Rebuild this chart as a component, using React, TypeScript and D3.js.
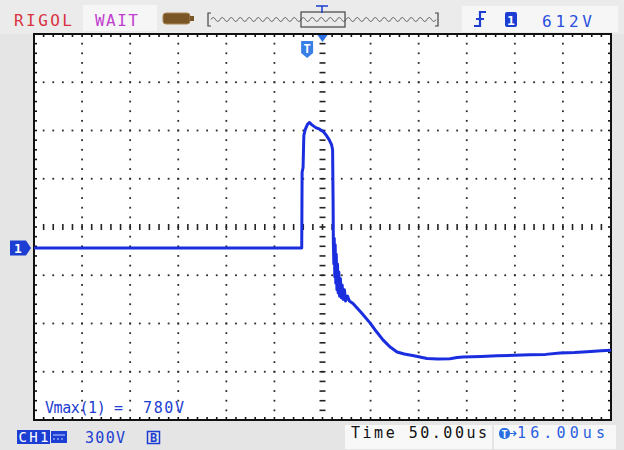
import React from 'react';
import * as d3 from 'd3';

// ---- data ----
const timeUs = [
  -300, -100, -21.6, -21.2, -20.2, -19.4, -18, -15.5, -13.5, -11, -7, -3, 1, 4, 7, 9.5, 10.5, 11, 11.3, 11.8,
  12.2, 12.8, 13.2, 13.8, 14.3, 15, 15.6, 16.3, 17, 17.8, 18.6, 19.5, 20.4, 21.5, 22.8, 24, 26, 28, 31.7, 40, 49.4, 56, 62.9,
  70, 77.5, 85, 95, 108.7, 120, 132.6, 140, 146.1, 165, 181.5, 200, 215.8, 232, 247, 262, 275, 290, 300,
];
const ch1Volts = [
  0, 0, 0, 470, 500, 700, 735, 770, 780, 765, 748, 738, 722, 700, 672, 640, 610, 300, 30, -100,
  60, -180, 20, -220, -40, -260, -100, -280, -150, -300, -190, -310, -230, -320, -260, -330, -300, -330, -345, -400, -466, -520, -572,
  -615, -647, -660, -670, -688, -690, -689, -682, -678, -675, -671, -668, -665, -662, -653, -650, -645, -640, -636,
];
const timePerDivUs = 50;
const voltsPerDiv = 300;
const ch1CenterV = 130;
const triggerTimeUs = -16;
const topLeftLabels = ['RIGOL', 'WAIT'];
const triggerLevelLabel = '612V';
const vmaxLabel = 'Vmax(1) =';
const vmaxValue = '780V';
const scaleLabel = '300V';
const timeLabel = 'Time 50.00us';
const offsetLabel = '16.00us';

const X0 = 34, X1 = 611, Y0 = 34, Y1 = 420;
const HDIV = 12, VDIV = 8;
const BLUE = '#1c3ed2';
const TRACE = '#1a2ee0';
const FONT = 'DejaVu Sans Mono, monospace';

export default function App() {
  const x = d3.scaleLinear().domain([-(HDIV / 2) * timePerDivUs, (HDIV / 2) * timePerDivUs]).range([X0, X1]);
  const y = d3.scaleLinear()
    .domain([ch1CenterV - (VDIV / 2) * voltsPerDiv, ch1CenterV + (VDIV / 2) * voltsPerDiv])
    .range([Y1, Y0]);
  const divW = (X1 - X0) / HDIV;
  const divH = (Y1 - Y0) / VDIV;
  const pts = timeUs.map((t, i) => [t, ch1Volts[i]] as [number, number]);
  const line = d3.line<[number, number]>().x(d => x(d[0])).y(d => y(d[1]));

  const dots: JSX.Element[] = [];
  for (let k = 1; k < VDIV; k++) {
    if (k === VDIV / 2) continue;
    const yy = Y0 + k * divH;
    for (let j = 1; j < HDIV * 5; j++) {
      dots.push(<rect key={`h${k}-${j}`} x={X0 + j * divW / 5 - 0.9} y={yy - 0.9} width={1.8} height={1.8} fill="#2b2b2b" />);
    }
  }
  for (let k = 1; k < HDIV; k++) {
    if (k === HDIV / 2) continue;
    const xx = X0 + k * divW;
    for (let j = 1; j < VDIV * 5; j++) {
      dots.push(<rect key={`v${k}-${j}`} x={xx - 0.9} y={Y0 + j * divH / 5 - 0.9} width={1.8} height={1.8} fill="#2b2b2b" />);
    }
  }
  const cx = X0 + (HDIV / 2) * divW;
  const cy = Y0 + (VDIV / 2) * divH;
  const ticks: JSX.Element[] = [];
  for (let j = 1; j < HDIV * 5; j++) {
    const xx = X0 + j * divW / 5;
    ticks.push(<line key={`ch${j}`} x1={xx} x2={xx} y1={cy - 3} y2={cy + 3} stroke="#222" strokeWidth={1.6} />);
    ticks.push(<line key={`tt${j}`} x1={xx} x2={xx} y1={Y0} y2={Y0 + 3} stroke="#111" strokeWidth={1.6} />);
    ticks.push(<line key={`tb${j}`} x1={xx} x2={xx} y1={Y1 - 3} y2={Y1} stroke="#111" strokeWidth={1.6} />);
  }
  for (let j = 1; j < VDIV * 5; j++) {
    const yy = Y0 + j * divH / 5;
    ticks.push(<line key={`cv${j}`} x1={cx - 3} x2={cx + 3} y1={yy} y2={yy} stroke="#222" strokeWidth={1.6} />);
    ticks.push(<line key={`tl${j}`} x1={X0} x2={X0 + 3} y1={yy} y2={yy} stroke="#111" strokeWidth={1.6} />);
    ticks.push(<line key={`tr${j}`} x1={X1 - 3} x2={X1} y1={yy} y2={yy} stroke="#111" strokeWidth={1.6} />);
  }

  // memory bar wave icon
  let wave = `M211,19.5`;
  for (let xx = 211; xx < 435; xx += 9) {
    wave += ` q2.25,-4 4.5,0 q2.25,4 4.5,0`;
  }
  const trigX = x(triggerTimeUs);
  const groundY = y(0);

  return (
    <div style={{ position: 'absolute', left: 0, top: 0 }}>
      <svg width={624} height={450} style={{ display: 'block' }}>
        <rect x={0} y={0} width={624} height={450} fill="#e5e5e5" />
        <rect x={0} y={0} width={624} height={34} fill="#ebebeb" />
        {/* top bar */}
        <text x={14} y={26} fontFamily={FONT} fontSize={16} fill="#d8323f" textLength={58} lengthAdjust="spacing">{topLeftLabels[0]}</text>
        <rect x={83} y={5} width={74} height={26} fill="#f6f6f6" />
        <text x={95} y={26} fontFamily={FONT} fontSize={16} fill="#c13fd0" textLength={43} lengthAdjust="spacing">{topLeftLabels[1]}</text>
        <rect x={163} y={13} width={27} height={11} rx={3} fill="#7a5627" stroke="#a88650" strokeWidth={1} />
        <rect x={190} y={16} width={4} height={5} fill="#7a5627" />
        <path d="M211,13 L208,13 L208,26 L211,26" fill="none" stroke="#444" strokeWidth={1.2} />
        <path d="M435,13 L438,13 L438,26 L435,26" fill="none" stroke="#444" strokeWidth={1.2} />
        <path d={wave} fill="none" stroke="#666" strokeWidth={1} />
        <rect x={301} y={12} width={44} height={15} fill="none" stroke="#444" strokeWidth={1.2} />
        <path d="M316,6 L328,6 M322,6 L322,13" stroke={BLUE} strokeWidth={1.5} />
        <rect x={462} y={6} width={156} height={26} fill="#f6f6f6" />
        <path d="M474,26 L480,26 L480,12 L486,12 M476,19 L484,19" fill="none" stroke={BLUE} strokeWidth={2.2} />
        <rect x={505} y={12} width={12} height={15} rx={2} fill={BLUE} />
        <text x={511} y={24.5} fontFamily={FONT} fontSize={13} fontWeight="bold" fill="#fff" textAnchor="middle">1</text>
        <text x={542} y={27} fontFamily={FONT} fontSize={16} fill="#2a4fe0" textLength={50} lengthAdjust="spacing">{triggerLevelLabel}</text>

        {/* plot */}
        <rect x={X0} y={Y0} width={X1 - X0} height={Y1 - Y0} fill="#fff" />
        {dots}
        {ticks}
        <rect x={X0} y={Y0} width={X1 - X0} height={Y1 - Y0} fill="none" stroke="#111" strokeWidth={2} />
        <path d={line(pts) || ''} fill="none" stroke={TRACE} strokeWidth={3} strokeLinejoin="round" />
        <text x={45} y={413} fontFamily={FONT} fontSize={15} fill={BLUE} textLength={78} lengthAdjust="spacing">{vmaxLabel}</text>
        <text x={143} y={413} fontFamily={FONT} fontSize={15} fill={BLUE} textLength={41} lengthAdjust="spacing">{vmaxValue}</text>

        {/* markers */}
        <path d={`M${cx - 5},${Y0 + 1} L${cx + 5},${Y0 + 1} L${cx},${Y0 + 8} Z`} fill="#2b6ee2" />
        <path d={`M${trigX - 6},41 L${trigX + 6},41 L${trigX + 6},53 L${trigX},58 L${trigX - 6},53 Z`} fill="#3a7fe6" />
        <text x={trigX} y={53} fontFamily={FONT} fontSize={12} fontWeight="bold" fill="#fff" textAnchor="middle">T</text>
        <path d={`M10,${groundY - 7.5} L26,${groundY - 7.5} L31,${groundY} L26,${groundY + 7.5} L10,${groundY + 7.5} Z`} fill={BLUE} />
        <text x={18} y={groundY + 5} fontFamily={FONT} fontSize={13} fontWeight="bold" fill="#fff" textAnchor="middle">1</text>

        {/* bottom bar */}
        <rect x={17} y={430} width={33} height={14} fill={BLUE} />
        <text x={33.5} y={442} fontFamily={FONT} fontSize={14} fill="#fff" textAnchor="middle" textLength={30} lengthAdjust="spacing">CH1</text>
        <rect x={51} y={431} width={16} height={12} fill={BLUE} />
        <path d="M53,435 L65,435 M53,439 L55,439 M57,439 L59,439 M61,439 L63,439" stroke="#c8d4ff" strokeWidth={1.2} />
        <text x={85} y={443} fontFamily={FONT} fontSize={15} fill={BLUE} textLength={40} lengthAdjust="spacing">{scaleLabel}</text>
        <rect x={147.5} y={431.5} width={12} height={12} fill="none" stroke={BLUE} strokeWidth={1.5} />
        <text x={153.5} y={442} fontFamily={FONT} fontSize={12} fontWeight="bold" fill={BLUE} textAnchor="middle">B</text>
        <rect x={345} y={425} width={147} height={24} fill="#f8f8f8" />
        <text x={351} y={438} fontFamily={FONT} fontSize={15} fill="#111" textLength={136} lengthAdjust="spacing">{timeLabel}</text>
        <rect x={494} y={425} width={122} height={24} fill="#f8f8f8" />
        <rect x={499} y={428} width={11} height={11} rx={5} fill="#2b6ee2" />
        <text x={504.5} y={437.5} fontFamily={FONT} fontSize={10} fontWeight="bold" fill="#fff" textAnchor="middle">T</text>
        <path d="M510,433.5 L516,433.5 M513.5,431 L516,433.5 L513.5,436" fill="none" stroke="#2b6ee2" strokeWidth={1.2} />
        <text x={517} y={438} fontFamily={FONT} fontSize={15} fill="#2b5fe0" textLength={88} lengthAdjust="spacing">{offsetLabel}</text>
      </svg>
    </div>
  );
}
